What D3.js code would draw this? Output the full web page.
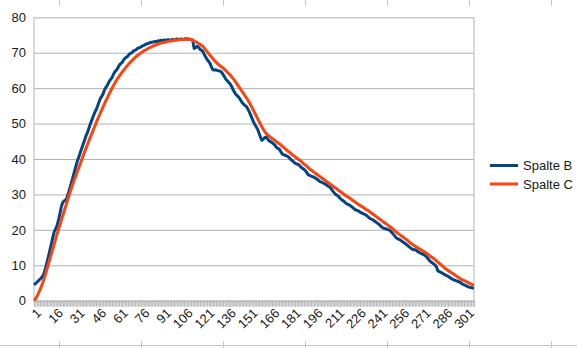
<!DOCTYPE html>
<html>
<head>
<meta charset="utf-8">
<script src="https://cdnjs.cloudflare.com/ajax/libs/d3/7.8.5/d3.min.js"></script>
<style>
  body { margin: 0; background: #fff; }
  text { font-family: "Liberation Sans", Arial, sans-serif; }
</style>
</head>
<body>
<div id="chart"></div>
<script>
// categories 1..306 (row numbers of the sheet)
var categories = d3.range(1, 307);
var xTickLabels = [1, 16, 31, 46, 61, 76, 91, 106, 121, 136, 151, 166, 181, 196, 211, 226, 241, 256, 271, 286, 301];
var yTicks = [0, 10, 20, 30, 40, 50, 60, 70, 80];
var seriesNames = ["Spalte B", "Spalte C"];

var spalteB = [
  4.5,4.8,5.2,5.6,6.0,6.4,6.9,7.8,9.2,10.8,
  12.5,14.2,16.0,17.8,19.4,20.3,21.2,22.8,24.6,26.6,
  27.8,28.2,28.4,29.2,30.6,32.0,33.4,34.9,36.4,37.9,
  39.4,40.5,41.7,42.9,44.1,45.2,46.5,47.4,48.6,49.8,
  50.9,52.0,53.0,53.9,54.8,56.0,57.1,57.7,58.5,59.6,
  60.3,60.9,61.8,62.4,62.9,63.8,64.6,65.0,65.6,66.4,
  66.9,67.2,67.9,68.4,68.7,69.0,69.6,69.8,70.1,70.5,
  70.7,70.9,71.3,71.4,71.6,71.9,72.0,72.3,72.5,72.5,
  72.8,72.9,73.0,73.0,73.2,73.1,73.4,73.3,73.5,73.4,
  73.6,73.5,73.5,73.7,73.5,73.6,73.8,73.6,73.7,73.9,
  73.7,73.8,73.9,73.7,73.8,74.0,73.8,73.9,73.8,73.7,
  73.6,71.2,71.4,71.8,71.6,71.0,70.7,70.4,69.5,68.8,
  68.1,67.6,67.0,66.0,65.2,65.1,65.2,65.0,64.9,64.8,
  64.5,63.9,63.2,62.5,62.1,61.6,61.2,60.5,59.6,58.8,
  58.2,57.8,57.4,56.8,56.1,55.6,55.2,54.9,54.3,53.5,
  52.6,51.6,50.6,49.8,49.1,48.4,47.3,46.1,45.3,45.6,
  46.1,46.2,45.6,45.1,44.9,44.6,44.3,43.9,43.3,43.0,
  42.8,42.1,41.5,41.2,41.1,40.9,40.7,40.3,39.9,39.5,
  39.2,38.8,38.6,38.5,38.2,37.7,37.4,37.1,36.8,36.2,
  35.6,35.4,35.2,35.0,34.9,34.6,34.4,34.0,33.7,33.5,
  33.3,33.1,32.9,32.6,32.3,32.1,31.6,31.0,30.5,30.0,
  29.8,29.5,29.0,28.6,28.3,28.0,27.6,27.3,27.1,26.9,
  26.6,26.3,25.9,25.6,25.5,25.3,25.0,24.8,24.6,24.4,
  24.2,23.9,23.5,23.2,23.0,22.8,22.5,22.2,21.9,21.6,
  21.2,20.8,20.5,20.4,20.3,20.1,20.0,19.7,19.3,18.8,
  18.3,17.8,17.5,17.3,17.1,16.8,16.5,16.2,15.9,15.6,
  15.2,14.9,14.6,14.4,14.4,14.2,13.9,13.6,13.4,13.2,
  13.0,12.8,12.4,11.9,11.4,11.0,10.7,10.4,10.1,9.5,
  8.4,8.2,8.0,7.8,7.5,7.3,7.1,6.9,6.6,6.3,
  6.1,5.9,5.7,5.6,5.4,5.3,5.0,4.7,4.5,4.3,
  4.1,3.9,3.8,3.7,3.6,3.6
];

var spalteC = [
  0.0,0.5,1.2,2.0,2.9,3.9,5.0,6.2,7.5,8.9,
  10.3,11.8,13.2,14.6,16.0,17.4,18.8,20.1,21.5,22.8,
  24.1,25.4,26.7,28.0,29.3,30.6,31.8,33.0,34.2,35.3,
  36.4,37.5,38.6,39.7,40.8,41.9,43.0,44.0,45.1,46.1,
  47.1,48.1,49.1,50.1,51.1,52.0,53.0,53.9,54.8,55.7,
  56.6,57.4,58.3,59.1,59.9,60.7,61.4,62.1,62.8,
  63.3,63.9,64.5,65.0,65.5,66.0,66.5,67.0,67.4,67.8,
  68.2,68.6,69.0,69.3,69.6,69.9,70.2,70.5,70.7,70.9,
  71.2,71.4,71.6,71.8,72.0,72.1,72.3,72.4,72.6,72.7,
  72.8,72.9,73.0,73.1,73.2,73.3,73.3,73.4,73.5,73.5,
  73.6,73.6,73.7,73.7,73.7,73.8,73.8,73.8,73.8,73.8,
  73.7,73.5,73.3,73.1,72.9,72.6,72.4,72.1,71.8,71.3,
  70.8,70.3,69.8,69.3,68.8,68.3,67.8,67.4,67.0,66.6,
  66.3,66.0,65.7,65.3,64.9,64.5,64.1,63.7,63.2,62.7,
  62.2,61.6,61.0,60.4,59.8,59.2,58.6,58.0,57.4,56.8,
  56.1,55.4,54.6,53.8,53.0,52.2,51.4,50.6,49.8,49.0,
  48.3,47.7,47.2,46.8,46.4,46.1,45.8,45.5,45.2,44.9,
  44.6,44.3,44.0,43.6,43.3,42.9,42.6,42.2,41.9,41.6,
  41.2,40.9,40.6,40.3,40.0,39.7,39.4,39.0,38.6,38.3,
  38.0,37.6,37.2,36.9,36.6,36.3,36.0,35.7,35.4,35.1,
  34.8,34.5,34.2,33.9,33.6,33.3,33.0,32.7,32.4,32.1,
  31.8,31.5,31.2,30.9,30.6,30.3,30.0,29.7,29.4,29.2,
  28.9,28.6,28.3,28.0,27.7,27.4,27.1,26.9,26.6,26.4,
  26.1,25.8,25.6,25.3,25.0,24.7,24.4,24.1,23.8,23.5,
  23.2,22.9,22.6,22.3,22.0,21.7,21.4,21.1,20.8,20.5,
  20.2,19.8,19.4,19.1,18.8,18.5,18.2,17.9,17.6,17.3,
  17.0,16.6,16.3,16.0,15.7,15.4,15.2,14.9,14.7,14.4,
  14.2,13.9,13.7,13.4,13.1,12.8,12.5,12.2,11.9,11.6,
  11.2,10.9,10.5,10.2,9.8,9.5,9.1,8.8,8.5,8.3,
  8.0,7.7,7.5,7.2,6.9,6.6,6.3,6.1,5.9,5.7,
  5.5,5.3,5.1,4.9,4.7,4.5,4.4
];

var colors = ["#004586", "#ff420e"];

var svgWidth = 577, svgHeight = 348;
var margin = { top: 17.3, left: 34, right: 103, bottom: 47.3 };
var width = svgWidth - margin.left - margin.right;
var height = svgHeight - margin.top - margin.bottom;

var svg = d3.select("#chart").append("svg")
  .attr("width", svgWidth)
  .attr("height", svgHeight);

// faint sheet cell lines behind the chart
var sheetCols = [59, 141, 223, 305, 387, 469, 551];
svg.append("g").selectAll("line.top")
  .data(sheetCols).enter().append("line")
  .attr("x1", d => d + 0.5).attr("x2", d => d + 0.5)
  .attr("y1", 0).attr("y2", 6)
  .attr("stroke", "#c8c8c8");
svg.append("g").selectAll("line.bot")
  .data(sheetCols).enter().append("line")
  .attr("x1", d => d + 0.5).attr("x2", d => d + 0.5)
  .attr("y1", 341).attr("y2", 348)
  .attr("stroke", "#c8c8c8");
svg.append("line")
  .attr("x1", 0).attr("x2", svgWidth)
  .attr("y1", 345.5).attr("y2", 345.5)
  .attr("stroke", "#c8c8c8");

var chartGroup = svg.append("g")
  .attr("transform", `translate(${margin.left}, ${margin.top})`);

var x = d3.scaleLinear().domain([1, categories.length]).range([0, width]);
var y = d3.scaleLinear().domain([0, 80]).range([height, 0]);

// grid lines
chartGroup.append("g")
  .call(d3.axisLeft(y).tickValues(yTicks).tickSize(-width).tickFormat(""))
  .call(g => g.select(".domain").remove())
  .call(g => g.selectAll("line").attr("stroke", "#b3b3b3"));

// y labels
chartGroup.append("g")
  .call(d3.axisLeft(y).tickValues(yTicks).tickSize(0).tickPadding(8))
  .call(g => g.select(".domain").remove())
  .call(g => g.selectAll("text")
    .attr("font-size", "13px")
    .attr("fill", "#1a1a1a")
    .style("font-family", "'Liberation Sans', Arial, sans-serif"));

// frame
chartGroup.append("line")
  .attr("x1", width).attr("x2", width).attr("y1", 0).attr("y2", height)
  .attr("stroke", "#b3b3b3");
chartGroup.append("line")
  .attr("x1", 0).attr("x2", 0).attr("y1", 0).attr("y2", height)
  .attr("stroke", "#b3b3b3");

// category ticks (one per row)
chartGroup.append("g")
  .attr("transform", `translate(0, ${height})`)
  .call(d3.axisBottom(x).tickValues(categories).tickSize(6).tickFormat(""))
  .call(g => g.select(".domain").attr("stroke", "#b3b3b3"))
  .call(g => g.selectAll(".tick line").attr("stroke", "#b3b3b3"));

// rotated category labels
chartGroup.append("g").selectAll("text")
  .data(xTickLabels).enter().append("text")
  .attr("transform", d => `translate(${x(d) + 5}, ${height + 10}) rotate(-45)`)
  .attr("text-anchor", "end")
  .attr("dy", "0.35em")
  .attr("font-size", "13px")
  .attr("fill", "#1a1a1a")
  .text(d => d);

// lines
var line = d3.line()
  .x((d, i) => x(categories[i]))
  .y(d => y(d));

[spalteB, spalteC].forEach(function(s, k) {
  chartGroup.append("path")
    .datum(s)
    .attr("d", line)
    .attr("fill", "none")
    .attr("stroke", colors[k])
    .attr("stroke-width", 3)
    .attr("stroke-linejoin", "round");
});

// legend
var legend = svg.append("g");
seriesNames.forEach(function(name, k) {
  var ly = 165.5 + k * 18.5;
  legend.append("line")
    .attr("x1", 490).attr("x2", 518)
    .attr("y1", ly).attr("y2", ly)
    .attr("stroke", colors[k])
    .attr("stroke-width", 3);
  legend.append("text")
    .attr("x", 523).attr("y", ly)
    .attr("dy", "0.35em")
    .attr("font-size", "13px")
    .attr("fill", "#1a1a1a")
    .text(name);
});
</script>
</body>
</html>
